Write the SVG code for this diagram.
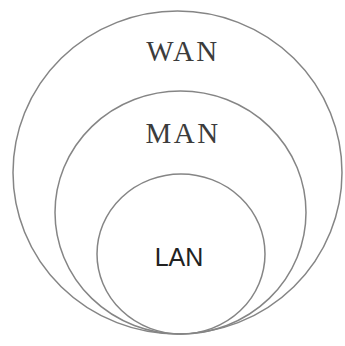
<svg xmlns="http://www.w3.org/2000/svg" width="345" height="346" viewBox="0 0 345 346">
<style>
.ring{fill:none;stroke:#858585;stroke-width:1.5}
.serif{font-family:"Liberation Serif","Times New Roman",serif;font-size:29px;fill:#3c3c3c;text-anchor:middle;letter-spacing:2.5px}
.sans{font-family:"Liberation Sans",Arial,sans-serif;font-size:25px;fill:#222;text-anchor:middle}
</style>
<rect width="345" height="346" fill="#fff"/>
<g id="wan">
<ellipse class="ring" cx="177.5" cy="172.5" rx="164.5" ry="161.5"/>
<text class="serif" x="183" y="61">WAN</text>
</g>
<g id="man">
<ellipse class="ring" cx="180.5" cy="212.5" rx="125.5" ry="121.5"/>
<text class="serif" x="183" y="143">MAN</text>
</g>
<g id="lan">
<ellipse class="ring" cx="181" cy="254" rx="84" ry="80"/>
<text class="sans" x="179" y="266">LAN</text>
</g>
<g id="connectors"/>
</svg>
